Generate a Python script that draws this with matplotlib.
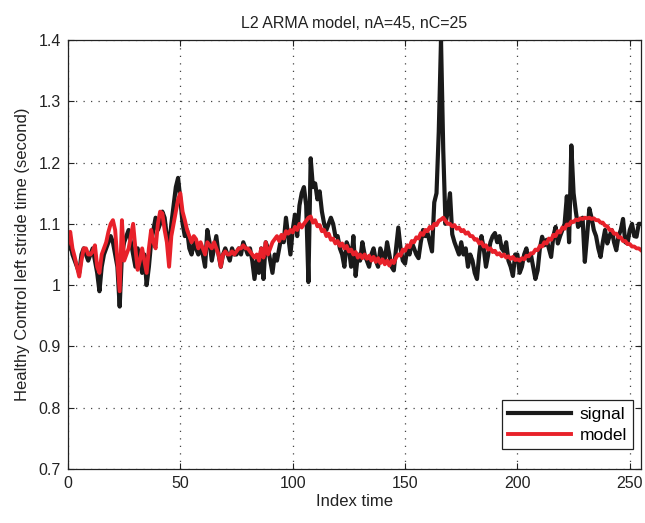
import numpy as np
import matplotlib
matplotlib.use("Agg")
import matplotlib.pyplot as plt
from matplotlib.ticker import FuncFormatter

# stride time signal (seconds), index 0..255
signal = [
    1.06, 1.07, 1.05, 1.04, 1.03, 1.02, 1.05, 1.06, 1.05, 1.04,
    1.05, 1.06, 1.04, 1.02, 0.99, 1.03, 1.05, 1.06, 1.07, 1.08,
    1.07, 1.05, 1.03, 0.965, 1.05, 1.07, 1.08, 1.09, 1.07, 1.05,
    1.03, 1.06, 1.04, 1.02, 1.05, 1.00, 1.03, 1.07, 1.09, 1.11,
    1.09, 1.10, 1.12, 1.11, 1.08, 1.06, 1.10, 1.13, 1.16, 1.175,
    1.14, 1.10, 1.08, 1.09, 1.06, 1.05, 1.07, 1.06, 1.05, 1.06,
    1.05, 1.03, 1.09, 1.07, 1.04, 1.06, 1.08, 1.05, 1.03, 1.05,
    1.06, 1.05, 1.04, 1.06, 1.05, 1.05, 1.06, 1.05, 1.07, 1.06,
    1.05, 1.06, 1.04, 1.01, 1.04, 1.02, 1.06, 1.01, 1.07, 1.06,
    1.04, 1.02, 1.05, 1.04, 1.06, 1.08, 1.07, 1.11, 1.08, 1.05,
    1.09, 1.115, 1.08, 1.13, 1.15, 1.16, 1.13, 1.005, 1.207, 1.16,
    1.166, 1.14, 1.153, 1.12, 1.10, 1.09, 1.10, 1.11, 1.10, 1.08,
    1.08, 1.06, 1.05, 1.03, 1.07, 1.06, 1.03, 1.08, 1.015, 1.05,
    1.04, 1.07, 1.05, 1.04, 1.03, 1.05, 1.06, 1.04, 1.03, 1.06,
    1.05, 1.04, 1.07, 1.05, 1.03, 1.024, 1.06, 1.094, 1.06, 1.04,
    1.035, 1.06, 1.05, 1.07, 1.06, 1.05, 1.044, 1.07, 1.09, 1.08,
    1.085, 1.07, 1.055, 1.135, 1.15, 1.25, 1.40, 1.22, 1.10, 1.12,
    1.15, 1.083, 1.07, 1.06, 1.05, 1.07, 1.05, 1.06, 1.03, 1.05,
    1.04, 1.02, 1.01, 1.05, 1.08, 1.06, 1.03, 1.05, 1.07, 1.08,
    1.085, 1.07, 1.08, 1.06, 1.055, 1.07, 1.04, 1.03, 1.015, 1.05,
    1.05, 1.02, 1.03, 1.05, 1.06, 1.04, 1.05, 1.03, 1.01, 1.024,
    1.06, 1.079, 1.065, 1.074, 1.06, 1.046, 1.08, 1.095, 1.068, 1.08,
    1.09, 1.10, 1.145, 1.07, 1.228, 1.15, 1.12, 1.095, 1.10, 1.11,
    1.038, 1.08, 1.125, 1.11, 1.09, 1.08, 1.06, 1.046, 1.07, 1.09,
    1.068, 1.08, 1.09, 1.07, 1.057, 1.08, 1.09, 1.108, 1.07, 1.068,
    1.09, 1.10, 1.08, 1.079, 1.10, 1.10,
]

# ARMA model output
model = [
    1.068, 1.087, 1.06, 1.046, 1.03, 1.014, 1.04, 1.06, 1.06, 1.05,
    1.05, 1.055, 1.065, 1.03, 1.02, 1.05, 1.06, 1.07, 1.087, 1.10,
    1.106, 1.09, 1.04, 0.99, 1.106, 1.04, 1.05, 1.06, 1.08, 1.10,
    1.06, 1.025, 1.04, 1.06, 1.04, 1.02, 1.06, 1.09, 1.07, 1.06,
    1.10, 1.12, 1.117, 1.09, 1.07, 1.03, 1.08, 1.10, 1.12, 1.14,
    1.15, 1.12, 1.106, 1.09, 1.08, 1.07, 1.08, 1.075, 1.06, 1.07,
    1.06, 1.05, 1.07, 1.065, 1.06, 1.07, 1.06, 1.05, 1.03, 1.05,
    1.055, 1.05, 1.05, 1.055, 1.05, 1.055, 1.06, 1.06, 1.065, 1.06,
    1.06, 1.055, 1.05, 1.045, 1.05, 1.04, 1.06, 1.045, 1.07, 1.05,
    1.06, 1.07, 1.075, 1.08, 1.072, 1.082, 1.076, 1.088, 1.084, 1.09,
    1.086, 1.095, 1.09, 1.10, 1.094, 1.10, 1.105, 1.11, 1.112, 1.102,
    1.106, 1.096, 1.098, 1.088, 1.09, 1.08, 1.084, 1.074, 1.076, 1.068,
    1.072, 1.064, 1.068, 1.06, 1.064, 1.055, 1.058, 1.05, 1.054, 1.045,
    1.05, 1.044, 1.05, 1.043, 1.048, 1.04, 1.046, 1.038, 1.044, 1.036,
    1.042, 1.034, 1.04, 1.032, 1.04, 1.036, 1.045, 1.05, 1.048, 1.058,
    1.056, 1.065, 1.062, 1.072, 1.07, 1.078, 1.076, 1.085, 1.082, 1.09,
    1.088, 1.095, 1.092, 1.1, 1.098, 1.105, 1.107, 1.11, 1.105, 1.10,
    1.1, 1.096, 1.098, 1.092, 1.094, 1.088, 1.09, 1.084, 1.086, 1.08,
    1.08, 1.074, 1.075, 1.068, 1.07, 1.063, 1.065, 1.058, 1.06, 1.054,
    1.056, 1.05, 1.052, 1.047, 1.05, 1.045, 1.047, 1.043, 1.046, 1.041,
    1.042, 1.04, 1.044, 1.042, 1.048, 1.047, 1.052, 1.052, 1.058, 1.057,
    1.064, 1.063, 1.07, 1.068, 1.076, 1.074, 1.082, 1.08, 1.088, 1.086,
    1.094, 1.092, 1.099, 1.098, 1.104, 1.103, 1.107, 1.106, 1.109, 1.108,
    1.11, 1.109, 1.11, 1.108, 1.109, 1.106, 1.106, 1.102, 1.102, 1.097,
    1.096, 1.09, 1.09, 1.084, 1.084, 1.078, 1.078, 1.072, 1.072, 1.067,
    1.067, 1.063, 1.063, 1.06, 1.06, 1.057,
]

xticks = [0, 50, 100, 150, 200, 250]
yticks = [0.7, 0.8, 0.9, 1.0, 1.1, 1.2, 1.3, 1.4]

plt.rcParams['font.family'] = ['Liberation Sans', 'DejaVu Sans']

fig = plt.figure(figsize=(6.45, 5.23), dpi=100)
ax = fig.add_axes([0.1054, 0.1033, 0.8884, 0.8202])

idx = np.arange(len(signal))
ax.plot(idx, signal, color='#1a1a1a', lw=3.0, label='signal')
ax.plot(np.arange(len(model)), model, color='#e8212a', lw=2.8, label='model')

ax.set_xlim(0, 255)
ax.set_ylim(0.7, 1.4)
ax.set_xticks(xticks)
ax.set_yticks(yticks)
ax.yaxis.set_major_formatter(FuncFormatter(lambda v, p: ('%g' % round(v, 2))))
ax.tick_params(direction='in', length=4, labelsize=11.5, top=True, right=True,
               colors='#222222', pad=5)
ax.grid(True, linestyle=(0, (1, 5)), color='#444444', lw=0.9)
for s in ax.spines.values():
    s.set_color('#222222')
    s.set_linewidth(0.9)

ax.set_title('L2 ARMA model, nA=45, nC=25', fontsize=11.5, color='#222222', pad=9)
ax.set_xlabel('Index time', fontsize=12, color='#222222', labelpad=2)
ax.set_ylabel('Healthy Control left stride time (second)', fontsize=12,
              color='#222222', labelpad=6)

leg = ax.legend(loc='lower right', bbox_to_anchor=(1 - 8 / 573, 20 / 429),
                borderaxespad=0, fontsize=12.5, fancybox=False, framealpha=1,
                edgecolor='#222222', handlelength=3.6, handletextpad=0.5,
                labelspacing=0.35, borderpad=0.35)
leg.get_frame().set_linewidth(0.9)

fig.savefig('out.png', dpi=100)
